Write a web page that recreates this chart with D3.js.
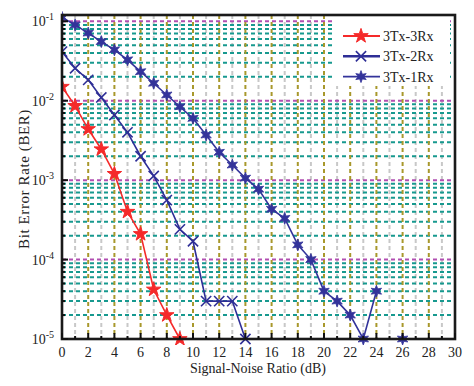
<!DOCTYPE html>
<html><head><meta charset="utf-8">
<script src="https://cdn.jsdelivr.net/npm/d3@7"></script>
<style>html,body{margin:0;padding:0;background:#fff;} text{font-family:"Liberation Serif","Times New Roman",serif;fill:#222;}</style>
</head><body>
<svg id="c" width="474" height="386"></svg>
<script>
const snr3Rx = [0,1,2,3,4,5,6,7,8,9];
const ber3Rx = [0.015,0.0086,0.0044,0.00245,0.0012,0.0004,0.00021,0.000042,0.00002,0.00001];
const snr2Rx = [0,1,2,3,4,5,6,7,8,9,10,11,12,13,14];
const ber2Rx = [0.0415,0.0256,0.0183,0.011,0.0066,0.004,0.002,0.00113,0.00056,0.00024,0.00017,0.00003,0.00003,0.00003,0.00001];
const snr1Rx = [0,1,2,3,4,5,6,7,8,9,10,11,12,13,14,15,16,17,18,19,20,21,22,23,24,25,26];
const ber1Rx = [0.112,0.09,0.071,0.0555,0.0437,0.0327,0.0232,0.0166,0.0118,0.0084,0.006,0.0037,0.00224,0.00155,0.00106,0.00077,0.00043,0.00033,0.000153,0.0001,0.00004,0.00003,0.00002,0.00001,0.00004,null,0.00001];
const seriesNames = ["3Tx-3Rx","3Tx-2Rx","3Tx-1Rx"];
const xTicks = [0,2,4,6,8,10,12,14,16,18,20,22,24,26,28,30];
const yDecades = [1e-5,1e-4,1e-3,1e-2,1e-1];
const yTickExp = ["-5","-4","-3","-2","-1"];

const svg = d3.select("#c");
const L=62,R=455,T=15,B=339;
const x = d3.scaleLinear().domain([0,30]).range([L,R]);
const y = d3.scaleLog().domain([1e-5,0.12]).range([B,T]);

svg.append("defs").append("clipPath").attr("id","clip").append("rect")
  .attr("x",L).attr("y",T-6).attr("width",R-L).attr("height",B-T+12);

// grid
const g = svg.append("g");
const minorY = [];
for (let e=-5;e<=-2;e++) for (let m=2;m<=9;m++) minorY.push(m*Math.pow(10,e));
const oddX = d3.range(1,30,2), evenX = d3.range(2,30,2);
g.selectAll(".vo").data(oddX).enter().append("line")
  .attr("x1",d=>x(d)).attr("x2",d=>x(d)).attr("y1",T).attr("y2",B)
  .attr("stroke","#c8c8c8").attr("stroke-width",2).attr("stroke-dasharray","4,3");
g.selectAll(".hm").data(minorY).enter().append("line")
  .attr("x1",L).attr("x2",R).attr("y1",d=>y(d)).attr("y2",d=>y(d))
  .attr("stroke","#17998f").attr("stroke-width",2).attr("stroke-dasharray","4,3");
g.selectAll(".hd").data(yDecades.slice(1)).enter().append("line")
  .attr("x1",L).attr("x2",R).attr("y1",d=>y(d)).attr("y2",d=>y(d))
  .attr("stroke","#b14fb1").attr("stroke-width",2).attr("stroke-dasharray","4,3");
g.selectAll(".ve").data(evenX).enter().append("line")
  .attr("x1",d=>x(d)).attr("x2",d=>x(d)).attr("y1",T).attr("y2",B)
  .attr("stroke","#a8982c").attr("stroke-width",2).attr("stroke-dasharray","4,3");

// legend background
const lg = svg.append("g");
lg.append("rect").attr("x",334).attr("y",T+1).attr("width",116).attr("height",70).attr("fill","#fff");

// series
const plot = svg.append("g").attr("clip-path","url(#clip)");
function hexagram(r){
  let p="";
  for(let i=0;i<12;i++){const a=Math.PI/6*i-Math.PI/2; const rr=i%2?r*0.45:r; p+=(i?"L":"M")+(rr*Math.cos(a)).toFixed(2)+","+(rr*Math.sin(a)).toFixed(2);}
  return p+"Z";
}
const star5 = d3.symbol().type(d3.symbolStar).size(65)();
const cross = d3.symbol().type(d3.symbolX).size(70)();
const hex = hexagram(6);
const series = [
  {xs:snr3Rx, ys:ber3Rx, color:"#f52a2a", marker:"star"},
  {xs:snr2Rx, ys:ber2Rx, color:"#2e2e96", marker:"x"},
  {xs:snr1Rx, ys:ber1Rx, color:"#33339a", marker:"hex"}
];
function drawMarker(sel, m, color){
  if(m==="star") sel.append("path").attr("d",star5).attr("fill",color).attr("stroke",color).attr("stroke-width",1);
  else if(m==="x") sel.append("path").attr("d",cross).attr("fill","none").attr("stroke",color).attr("stroke-width",1.6);
  else sel.append("path").attr("d",hex).attr("fill",color).attr("stroke",color).attr("stroke-width",0.8);
}
series.forEach(s=>{
  const pts = s.xs.map((v,i)=>({x:v,y:s.ys[i]}));
  const line = d3.line().defined(d=>d.y!=null).x(d=>x(d.x)).y(d=>y(d.y));
  plot.append("path").datum(pts).attr("d",line).attr("fill","none").attr("stroke",s.color).attr("stroke-width",1.6);
  pts.filter(d=>d.y!=null).forEach(d=>{
    const gg = plot.append("g").attr("transform",`translate(${x(d.x)},${y(d.y)})`);
    drawMarker(gg, s.marker, s.color);
  });
});

// legend entries
series.forEach((s,i)=>{
  const ly = 36 + i*20.3;
  lg.append("line").attr("x1",343).attr("x2",380).attr("y1",ly).attr("y2",ly).attr("stroke",s.color).attr("stroke-width",i===1?2.4:1.8);
  const gg = lg.append("g").attr("transform",`translate(361,${ly})`);
  drawMarker(gg, s.marker, s.color);
  lg.append("text").attr("x",383).attr("y",ly+5).attr("font-size",14).text(seriesNames[i]);
});

// frame
svg.append("rect").attr("x",L).attr("y",T).attr("width",R-L).attr("height",B-T)
  .attr("fill","none").attr("stroke","#1a1a1a").attr("stroke-width",2.6);

// x ticks
const ax = svg.append("g");
d3.range(0,31,1).forEach(v=>{
  const len = v%2===0?6:3;
  ax.append("line").attr("x1",x(v)).attr("x2",x(v)).attr("y1",B).attr("y2",B-len).attr("stroke","#111").attr("stroke-width",2);
});
ax.selectAll(".xt").data(xTicks).enter().append("text")
  .attr("x",d=>x(d)).attr("y",357).attr("text-anchor","middle").attr("font-size",14).text(d=>d);
ax.append("text").attr("x",258).attr("y",373).attr("text-anchor","middle").attr("font-size",14).text("Signal-Noise Ratio (dB)");

// y ticks
minorY.concat(yDecades).forEach(v=>{
  const len = yDecades.includes(v)?6:3;
  ax.append("line").attr("x1",L).attr("x2",L+len).attr("y1",y(v)).attr("y2",y(v)).attr("stroke","#111").attr("stroke-width",2);
});
yDecades.forEach((v,i)=>{
  const t = ax.append("text").attr("x",L-8).attr("y",y(v)+5).attr("text-anchor","end").attr("font-size",14);
  t.append("tspan").text("10");
  t.append("tspan").attr("dy",-6).attr("font-size",10).text(yTickExp[i]);
});
ax.append("text").attr("transform","translate(29,179) rotate(-90)").attr("text-anchor","middle")
  .attr("font-size",15).attr("letter-spacing",0.6).text("Bit Error Rate (BER)");
</script>
</body></html>
